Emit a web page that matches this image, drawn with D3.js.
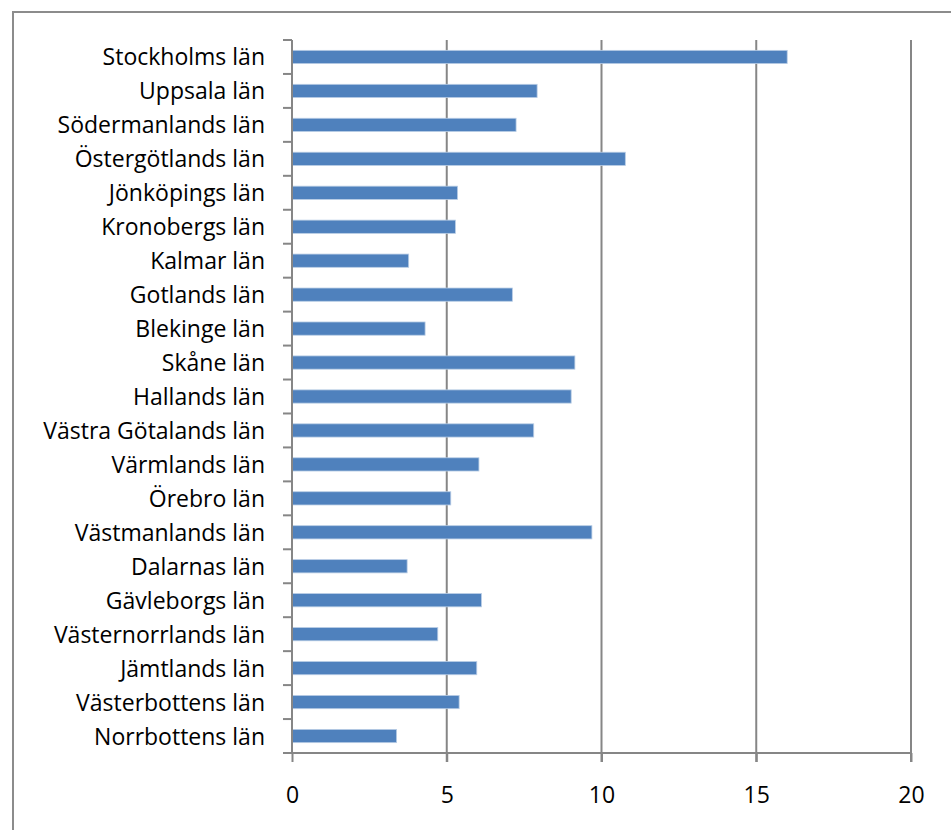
<!DOCTYPE html>
<html><head><meta charset="utf-8">
<script src="https://cdn.jsdelivr.net/npm/d3@7"></script>
<style>body{margin:0;background:#fff;} svg{display:block;}</style>
</head><body>
<svg id="c" width="951" height="830"></svg>
<script>
const categories = ["Stockholms län","Uppsala län","Södermanlands län","Östergötlands län","Jönköpings län","Kronobergs län","Kalmar län","Gotlands län","Blekinge län","Skåne län","Hallands län","Västra Götalands län","Värmlands län","Örebro län","Västmanlands län","Dalarnas län","Gävleborgs län","Västernorrlands län","Jämtlands län","Västerbottens län","Norrbottens län"];
const values = [16.0,7.92,7.24,10.77,5.35,5.28,3.77,7.12,4.30,9.14,9.02,7.81,6.04,5.13,9.69,3.72,6.12,4.71,5.97,5.40,3.38];
const xTicks = [0,5,10,15,20];

(function(){
const svg = d3.select("#c");
const pLeft = 292, pRight = 911, pTop = 40, pBottom = 753;
const font = "'Open Sans', sans-serif";
const fs = 23;

svg.append("rect").attr("x",13).attr("y",12).attr("width",960).attr("height",900)
  .attr("fill","#fff").attr("stroke","#8c8c8c").attr("stroke-width",2);

const x = d3.scaleLinear().domain([0,20]).range([pLeft,pRight]);
const y = d3.scaleBand().domain(categories).range([pTop,pBottom]).paddingInner(0.61).paddingOuter(0.305);

svg.append("g").selectAll("line").data(xTicks.slice(1)).join("line")
  .attr("x1",d=>x(d)).attr("x2",d=>x(d)).attr("y1",pTop).attr("y2",pBottom+9)
  .attr("stroke","#868686").attr("stroke-width",2);

svg.append("g").selectAll("rect").data(values).join("rect")
  .attr("x",x(0)).attr("y",(d,i)=>y(categories[i]))
  .attr("width",d=>x(d)-x(0)).attr("height",y.bandwidth())
  .attr("fill","#4f81bd").attr("stroke","#b9cde5").attr("stroke-width",0.8);

const xa = svg.append("g").attr("transform",`translate(0,${pBottom})`)
  .call(d3.axisBottom(x).tickValues(xTicks).tickSize(9).tickPadding(25).tickFormat(d3.format("d")));
xa.select(".domain").attr("stroke","#868686").attr("stroke-width",2).attr("d",`M${pLeft},0H${pRight}`);
xa.selectAll(".tick line").attr("stroke","#868686").attr("stroke-width",2);
xa.selectAll(".tick text").attr("font-family",font).attr("font-size",fs).attr("fill","#000");

const ya = svg.append("g").attr("transform",`translate(${pLeft},0)`)
  .call(d3.axisLeft(y).tickSize(0).tickPadding(27));
ya.select(".domain").attr("stroke","#868686").attr("stroke-width",2).attr("d",`M0,${pTop}V${pBottom}`);
ya.selectAll(".tick text").attr("font-family",font).attr("font-size",fs).attr("fill","#000").attr("dy","0.37em");
const bounds = d3.range(categories.length+1).map(i=>pTop + i*(pBottom-pTop)/categories.length);
ya.append("g").selectAll("line").data(bounds).join("line")
  .attr("x1",-9).attr("x2",0).attr("y1",d=>d).attr("y2",d=>d)
  .attr("stroke","#868686").attr("stroke-width",2);
})();
</script>
</body></html>
